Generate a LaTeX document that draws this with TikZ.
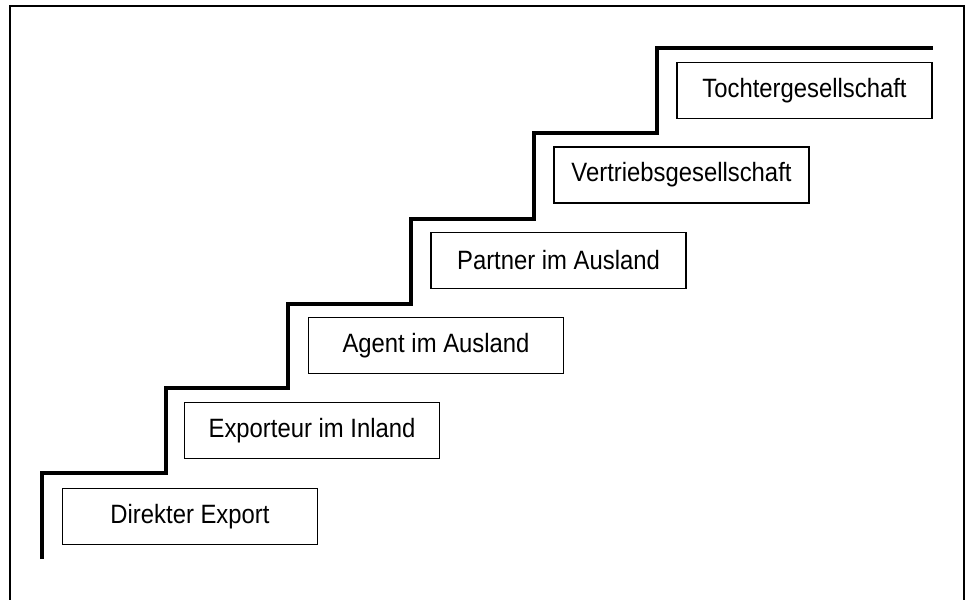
\documentclass[tikz,border=0pt]{standalone}
\usepackage{fontspec}
\setmainfont{Liberation Sans}[FakeStretch=0.9]
\begin{document}
\begin{tikzpicture}[x=1pt,y=-1pt,
  stagebox/.style={draw=black,line width=1.6pt,minimum width=255pt,minimum height=56pt,
    inner sep=0pt,font=\fontsize{26.5pt}{31pt}\selectfont},
  frameline/.style={line width=2.2pt,line join=miter},
  stairline/.style={line width=3.6pt,line join=miter}]
\useasboundingbox (0,0) rectangle (965,599);
% open frame
\draw[frameline] (10,600) -- (10,6) -- (964,6) -- (964,600);
% staircase
\draw[stairline] (42,559) -- (42,473) -- (166,473) -- (166,388) -- (288,388) -- (288,304)
  -- (411,304) -- (411,219) -- (534,219) -- (534,133) -- (657,133) -- (657,48) -- (933,48);
% steps
\node[stagebox] (s1) at (190,516.5) {Direkter Export};
\node[stagebox] (s2) at (312,430.5) {Exporteur im Inland};
\node[stagebox] (s3) at (436,345.5) {Agent im Ausland};
\node[stagebox] (s4) at (558.5,260.5) {Partner im Ausland};
\node[stagebox] (s5) at (681.5,175) {Vertriebsgesellschaft};
\node[stagebox] (s6) at (804.5,90.5) {Tochtergesellschaft};
\end{tikzpicture}
\end{document}
